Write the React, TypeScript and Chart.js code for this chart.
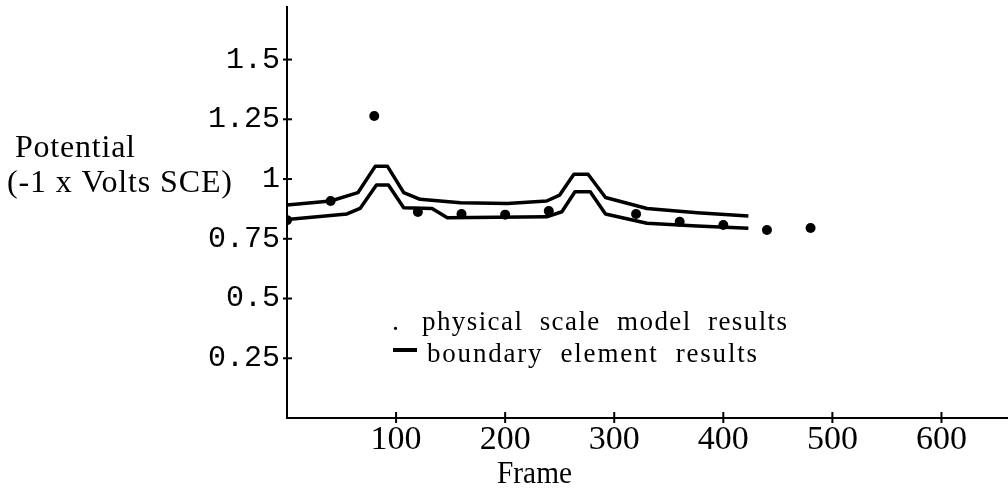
import React, { useEffect, useRef } from "react";
import { Chart, registerables } from "chart.js";

Chart.register(...registerables);

// ---- data ----
const modelFrames = [0, 40, 80, 120, 160, 200, 240, 320, 360, 400, 440, 480];
const modelValues = [0.828, 0.908, 1.264, 0.862, 0.854, 0.851, 0.866, 0.854, 0.821, 0.808, 0.787, 0.795];

const upperFrames = [0, 40, 65, 81, 92, 107, 122, 159, 202, 238, 250, 263, 276, 292, 330, 376, 423];
const upperValues = [0.891, 0.908, 0.943, 1.054, 1.054, 0.943, 0.915, 0.901, 0.898, 0.908, 0.933, 1.02, 1.02, 0.923, 0.877, 0.859, 0.845];

const lowerFrames = [0, 55, 67, 82, 93, 107, 133, 147, 238, 252, 264, 278, 292, 330, 376, 423];
const lowerValues = [0.831, 0.854, 0.877, 0.975, 0.975, 0.88, 0.877, 0.838, 0.842, 0.863, 0.947, 0.947, 0.854, 0.815, 0.803, 0.794];

const xTicks = [100, 200, 300, 400, 500, 600];
const yTicks = [0.25, 0.5, 0.75, 1, 1.25, 1.5];
const yTickLabels = ["0.25", "0.5", "0.75", "1", "1.25", "1.5"];

const xTitle = "Frame";
const yTitleLines = ["Potential", "(-1 x Volts SCE)"];
const legendModel = "physical  scale  model  results";
const legendBem = "boundary  element  results";

const toPoints = (xs: number[], ys: number[]) => xs.map((x, i) => ({ x, y: ys[i] }));

function drawFit(ctx: CanvasRenderingContext2D, text: string, left: number, baseline: number, font: string, width: number) {
  ctx.save();
  ctx.font = font;
  (ctx as any).letterSpacing = "0px";
  const w = ctx.measureText(text).width;
  if (w < width && text.length > 1) {
    const ls = (width - w) / (text.length - 1);
    (ctx as any).letterSpacing = ls + "px";
    ctx.fillText(text, left, baseline);
  } else {
    const s = width / w;
    ctx.translate(left, baseline);
    ctx.scale(s, 1);
    ctx.fillText(text, 0, 0);
  }
  ctx.restore();
}

const decorPlugin = {
  id: "decor",
  afterDraw(chart: any) {
    const ctx: CanvasRenderingContext2D = chart.ctx;
    const xs = chart.scales.x;
    const ys = chart.scales.y;
    const area = chart.chartArea;
    ctx.save();
    ctx.strokeStyle = "#000";
    ctx.fillStyle = "#000";
    ctx.lineWidth = 2;
    // crossing tick marks
    yTicks.forEach((v) => {
      const py = ys.getPixelForValue(v);
      ctx.beginPath();
      ctx.moveTo(area.left - 4, py);
      ctx.lineTo(area.left + 5, py);
      ctx.stroke();
    });
    xTicks.forEach((v) => {
      const px = xs.getPixelForValue(v);
      ctx.beginPath();
      ctx.moveTo(px, area.bottom - 6);
      ctx.lineTo(px, area.bottom + 5);
      ctx.stroke();
    });
    ctx.textBaseline = "alphabetic";
    ctx.textAlign = "left";
    // y title
    drawFit(ctx, yTitleLines[0], 15, 157, '32px "Liberation Serif"', 120);
    drawFit(ctx, yTitleLines[1], 7, 192, '32px "Liberation Serif"', 225);
    // x title
    drawFit(ctx, xTitle, 497, 483, '32px "Liberation Serif"', 75);
    // legend
    ctx.font = '28px "Liberation Serif"';
    ctx.fillText(".", 392, 330);
    drawFit(ctx, legendModel, 422, 330, '27px "Liberation Serif"', 365);
    ctx.fillRect(393, 348, 24, 4);
    drawFit(ctx, legendBem, 427, 362, '27px "Liberation Serif"', 330);
    ctx.restore();
  },
};

export default function App() {
  const ref = useRef<HTMLCanvasElement | null>(null);
  useEffect(() => {
    if (!ref.current) return;
    const chart = new Chart(ref.current, {
      type: "scatter",
      data: {
        datasets: [
          {
            label: "boundary element results (upper)",
            data: toPoints(upperFrames, upperValues),
            showLine: true,
            borderColor: "#000",
            borderWidth: 3.5,
            pointRadius: 0,
            borderJoinStyle: "round",
            tension: 0,
          } as any,
          {
            label: "boundary element results (lower)",
            data: toPoints(lowerFrames, lowerValues),
            showLine: true,
            borderColor: "#000",
            borderWidth: 3.5,
            pointRadius: 0,
            borderJoinStyle: "round",
            tension: 0,
          } as any,
          {
            label: "physical scale model results",
            data: toPoints(modelFrames, modelValues),
            showLine: false,
            pointRadius: 5,
            pointBackgroundColor: "#000",
            pointBorderColor: "#000",
            pointBorderWidth: 0,
          } as any,
        ],
      },
      options: {
        animation: false,
        responsive: false,
        layout: { autoPadding: false, padding: { top: 7, right: 0, left: 0, bottom: 0 } },
        plugins: { legend: { display: false }, tooltip: { enabled: false } },
        scales: {
          x: {
            type: "linear",
            min: 0,
            max: 661,
            grid: { display: false, drawTicks: false },
            border: { display: true, color: "#000", width: 2 },
            afterBuildTicks: (s: any) => {
              s.ticks = xTicks.map((v) => ({ value: v }));
            },
            afterFit: (s: any) => {
              s.height = 74;
              s.paddingLeft = 0;
              s.paddingRight = 0;
            },
            ticks: {
              color: "#000",
              padding: 2,
              autoSkip: false,
              maxRotation: 0,
              font: { family: '"Liberation Serif"', size: 34 },
              callback: (v: any) => String(v),
            },
          },
          y: {
            type: "linear",
            min: 0,
            max: 1.72,
            grid: { display: false, drawTicks: false },
            border: { display: true, color: "#000", width: 2 },
            afterBuildTicks: (s: any) => {
              s.ticks = yTicks.map((v) => ({ value: v }));
            },
            afterFit: (s: any) => {
              s.width = 287;
              s.paddingTop = 0;
              s.paddingBottom = 0;
            },
            ticks: {
              color: "#000",
              padding: 7,
              autoSkip: false,
              font: { family: '"Liberation Mono"', size: 30 },
              callback: (v: any) => {
                const i = yTicks.indexOf(Number(v));
                return i >= 0 ? yTickLabels[i] : "";
              },
            },
          },
        },
      },
      plugins: [decorPlugin],
    });
    return () => chart.destroy();
  }, []);
  return (
    <div style={{ position: "fixed", left: 0, top: 0, width: 1008, height: 492, background: "#fff" }}>
      <canvas ref={ref} width={1008} height={492} />
    </div>
  );
}
